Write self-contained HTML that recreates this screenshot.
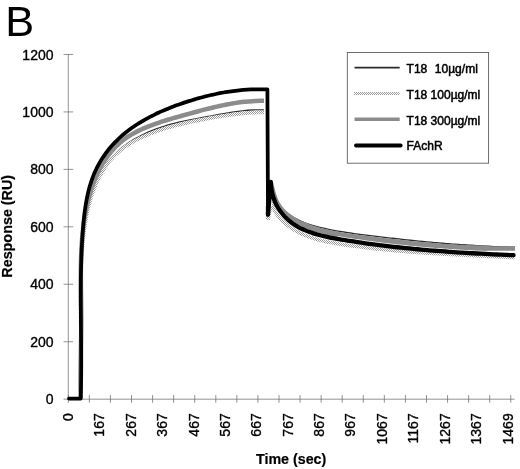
<!DOCTYPE html>
<html><head><meta charset="utf-8"><title>B</title>
<style>
html,body{margin:0;padding:0;background:#fff;}
svg{display:block;font-family:"Liberation Sans",sans-serif;}
</style></head><body>
<svg width="520" height="469" viewBox="0 0 520 469">
<defs>
<pattern id="dots" width="2" height="2" patternUnits="userSpaceOnUse"><rect width="2" height="2" fill="#fbfbfb"/><rect width="1" height="1" fill="#9c9c9c"/><rect x="1" y="1" width="1" height="1" fill="#9c9c9c"/></pattern>
</defs>
<rect width="520" height="469" fill="#fff"/>
<text x="5.35" y="36.1" font-size="43.3" fill="#000">B</text>
<g stroke="#6a6a6a" stroke-width="0.72" fill="none">
<line x1="68.3" x2="68.3" y1="54.4" y2="399.2"/>
<line x1="68.3" x2="514.5" y1="399.2" y2="399.2"/>
<line x1="63.6" x2="73.2" y1="399.20" y2="399.20"/><line x1="63.6" x2="73.2" y1="341.74" y2="341.74"/><line x1="63.6" x2="73.2" y1="284.28" y2="284.28"/><line x1="63.6" x2="73.2" y1="226.82" y2="226.82"/><line x1="63.6" x2="73.2" y1="169.37" y2="169.37"/><line x1="63.6" x2="73.2" y1="111.91" y2="111.91"/><line x1="63.6" x2="73.2" y1="54.45" y2="54.45"/>
<line y1="395" y2="402.8" x1="68.30" x2="68.30"/><line y1="395" y2="402.8" x1="89.37" x2="89.37"/><line y1="395" y2="402.8" x1="110.44" x2="110.44"/><line y1="395" y2="402.8" x1="131.51" x2="131.51"/><line y1="395" y2="402.8" x1="152.58" x2="152.58"/><line y1="395" y2="402.8" x1="173.65" x2="173.65"/><line y1="395" y2="402.8" x1="194.72" x2="194.72"/><line y1="395" y2="402.8" x1="215.79" x2="215.79"/><line y1="395" y2="402.8" x1="236.86" x2="236.86"/><line y1="395" y2="402.8" x1="257.93" x2="257.93"/><line y1="395" y2="402.8" x1="279.00" x2="279.00"/><line y1="395" y2="402.8" x1="300.07" x2="300.07"/><line y1="395" y2="402.8" x1="321.14" x2="321.14"/><line y1="395" y2="402.8" x1="342.21" x2="342.21"/><line y1="395" y2="402.8" x1="363.28" x2="363.28"/><line y1="395" y2="402.8" x1="384.35" x2="384.35"/><line y1="395" y2="402.8" x1="405.42" x2="405.42"/><line y1="395" y2="402.8" x1="426.49" x2="426.49"/><line y1="395" y2="402.8" x1="447.56" x2="447.56"/><line y1="395" y2="402.8" x1="468.63" x2="468.63"/><line y1="395" y2="402.8" x1="489.70" x2="489.70"/><line y1="395" y2="402.8" x1="510.77" x2="510.77"/>
</g>
<g font-size="14" fill="#000" stroke="#000" stroke-width="0.35"><text x="53.5" y="404.30" text-anchor="end">0</text><text x="53.5" y="346.84" text-anchor="end">200</text><text x="53.5" y="289.38" text-anchor="end">400</text><text x="53.5" y="231.92" text-anchor="end">600</text><text x="53.5" y="174.47" text-anchor="end">800</text><text x="53.5" y="117.01" text-anchor="end">1000</text><text x="53.5" y="59.55" text-anchor="end">1200</text></g>
<g font-size="14" fill="#000" stroke="#000" stroke-width="0.35"><text transform="translate(73.10,413.3) rotate(-90)" text-anchor="end">0</text><text transform="translate(104.47,413.3) rotate(-90)" text-anchor="end">167</text><text transform="translate(135.84,413.3) rotate(-90)" text-anchor="end">267</text><text transform="translate(167.21,413.3) rotate(-90)" text-anchor="end">367</text><text transform="translate(198.58,413.3) rotate(-90)" text-anchor="end">467</text><text transform="translate(229.95,413.3) rotate(-90)" text-anchor="end">567</text><text transform="translate(261.32,413.3) rotate(-90)" text-anchor="end">667</text><text transform="translate(292.69,413.3) rotate(-90)" text-anchor="end">767</text><text transform="translate(324.06,413.3) rotate(-90)" text-anchor="end">867</text><text transform="translate(355.43,413.3) rotate(-90)" text-anchor="end">967</text><text transform="translate(386.80,413.3) rotate(-90)" text-anchor="end">1067</text><text transform="translate(418.17,413.3) rotate(-90)" text-anchor="end">1167</text><text transform="translate(449.54,413.3) rotate(-90)" text-anchor="end">1267</text><text transform="translate(480.91,413.3) rotate(-90)" text-anchor="end">1367</text><text transform="translate(513.30,413.3) rotate(-90)" text-anchor="end">1469</text></g>
<text transform="translate(12.0,277.7) rotate(-90)" font-size="14.35" font-weight="bold" fill="#000" stroke="#000" stroke-width="0.2">Response (RU)</text>
<text x="256.0" y="463.8" font-size="14.25" font-weight="bold" fill="#000" stroke="#000" stroke-width="0.2">Time (sec)</text>
<g fill="none" stroke-linejoin="round" stroke-linecap="butt">
<path d="M80.70,398.60 C80.73,397.91 80.81,395.85 80.87,394.48 C80.92,393.11 80.96,391.75 81.00,390.38 C81.04,389.02 81.08,387.65 81.11,386.29 C81.14,384.93 81.17,383.57 81.20,382.21 C81.22,380.86 81.24,379.50 81.26,378.15 C81.28,376.79 81.29,375.44 81.30,374.09 C81.31,372.74 81.32,371.39 81.32,370.05 C81.32,368.70 81.33,367.35 81.32,366.01 C81.32,364.67 81.32,363.32 81.31,361.98 C81.31,360.64 81.30,359.30 81.29,357.96 C81.27,356.62 81.26,355.28 81.25,353.95 C81.23,352.61 81.22,351.28 81.20,349.94 C81.18,348.61 81.16,347.27 81.14,345.94 C81.12,344.61 81.10,343.27 81.08,341.94 C81.06,340.61 81.03,339.28 81.01,337.95 C80.99,336.62 80.96,335.29 80.94,333.96 C80.92,332.63 80.89,331.30 80.87,329.98 C80.84,328.65 80.82,327.32 80.80,325.99 C80.77,324.66 80.75,323.34 80.73,322.01 C80.70,320.68 80.68,319.35 80.66,318.03 C80.64,316.70 80.62,315.37 80.60,314.04 C80.59,312.72 80.57,311.39 80.55,310.06 C80.54,308.73 80.53,307.41 80.51,306.08 C80.50,304.75 80.49,303.42 80.49,302.09 C80.48,300.76 80.47,299.43 80.47,298.10 C80.47,296.77 80.47,295.44 80.47,294.11 C80.48,292.77 80.48,291.44 80.49,290.11 C80.50,288.77 80.51,287.44 80.53,286.11 C80.54,284.77 80.56,283.43 80.59,282.10 C80.61,280.76 80.64,279.42 80.67,278.08 C80.70,276.74 80.73,275.40 80.77,274.06 C80.81,272.72 80.86,271.37 80.90,270.03 C80.95,268.68 81.01,267.34 81.06,265.99 C81.12,264.64 81.19,263.29 81.26,261.94 C81.32,260.59 81.40,259.23 81.48,257.88 C81.56,256.52 81.64,255.17 81.73,253.81 C81.83,252.45 81.92,251.09 82.03,249.73 C82.13,248.36 82.24,247.00 82.36,245.63 C82.47,244.27 82.59,242.90 82.72,241.53 C82.85,240.16 82.99,238.78 83.14,237.41 C83.28,236.04 83.44,234.67 83.60,233.29 C83.76,231.92 83.93,230.55 84.11,229.18 C84.30,227.81 84.49,226.44 84.69,225.07 C84.89,223.71 85.10,222.34 85.32,220.98 C85.55,219.62 85.78,218.26 86.03,216.91 C86.27,215.55 86.53,214.20 86.80,212.86 C87.07,211.51 87.36,210.17 87.66,208.84 C87.96,207.50 88.27,206.17 88.59,204.85 C88.92,203.53 89.26,202.22 89.61,200.91 C89.97,199.60 90.34,198.30 90.73,197.01 C91.12,195.72 91.52,194.44 91.94,193.16 C92.36,191.89 92.80,190.63 93.25,189.37 C93.71,188.12 94.18,186.88 94.67,185.65 C95.16,184.42 95.67,183.19 96.20,181.99 C96.73,180.78 97.27,179.58 97.84,178.40 C98.41,177.22 99.00,176.05 99.60,174.89 C100.21,173.74 100.84,172.59 101.49,171.47 C102.15,170.34 102.82,169.23 103.51,168.13 C104.21,167.03 104.93,165.95 105.67,164.89 C106.41,163.83 107.17,162.78 107.96,161.75 C108.75,160.72 109.56,159.71 110.40,158.71 C111.23,157.72 112.09,156.75 112.98,155.79 C113.87,154.83 114.78,153.90 115.72,152.98 C116.66,152.07 117.63,151.17 118.62,150.30 C119.61,149.42 120.63,148.57 121.67,147.73 C122.71,146.90 123.78,146.09 124.87,145.29 C125.95,144.50 127.06,143.73 128.18,142.97 C129.31,142.22 130.45,141.49 131.61,140.77 C132.77,140.06 133.95,139.36 135.14,138.68 C136.32,138.01 137.53,137.35 138.74,136.71 C139.95,136.07 141.17,135.45 142.41,134.84 C143.64,134.24 144.88,133.65 146.12,133.09 C147.37,132.52 148.63,131.97 149.89,131.44 C151.15,130.90 152.42,130.39 153.69,129.89 C154.96,129.39 156.24,128.91 157.53,128.44 C158.81,127.98 160.10,127.53 161.39,127.10 C162.68,126.66 163.97,126.25 165.27,125.85 C166.56,125.45 167.86,125.06 169.16,124.69 C170.46,124.32 171.76,123.97 173.06,123.63 C174.37,123.29 175.67,122.96 176.97,122.65 C178.27,122.33 179.58,122.03 180.88,121.74 C182.18,121.45 183.49,121.17 184.79,120.89 C186.10,120.62 187.41,120.35 188.71,120.09 C190.02,119.83 191.33,119.58 192.64,119.33 C193.95,119.08 195.26,118.83 196.57,118.59 C197.88,118.34 199.19,118.10 200.50,117.86 C201.81,117.62 203.13,117.37 204.44,117.13 C205.75,116.89 207.07,116.64 208.39,116.40 C209.70,116.16 211.02,115.91 212.34,115.67 C213.65,115.43 214.97,115.18 216.29,114.94 C217.61,114.70 218.93,114.46 220.26,114.22 C221.58,113.99 222.90,113.75 224.22,113.52 C225.55,113.29 226.87,113.06 228.20,112.83 C229.53,112.61 230.85,112.39 232.18,112.19 C233.51,111.98 234.84,111.78 236.17,111.59 C237.50,111.40 238.83,111.22 240.17,111.06 C241.50,110.89 242.83,110.74 244.17,110.61 C245.51,110.47 246.84,110.35 248.18,110.24 C249.52,110.14 250.86,110.05 252.20,109.99 C253.54,109.92 254.88,109.88 256.22,109.85 C257.57,109.83 258.91,109.83 260.26,109.85 C261.60,109.88 263.63,109.98 264.30,110.00 L268.00,110.00 C268.00,127.33 268.00,196.67 268.00,214.00 L271.20,184.00 C271.36,184.71 271.84,186.88 272.18,188.27 C272.53,189.66 272.88,191.02 273.27,192.34 C273.67,193.67 274.08,194.95 274.56,196.20 C275.04,197.45 275.55,198.67 276.14,199.84 C276.73,201.02 277.38,202.16 278.10,203.26 C278.82,204.35 279.61,205.41 280.46,206.44 C281.30,207.46 282.21,208.44 283.16,209.38 C284.11,210.33 285.11,211.23 286.15,212.09 C287.18,212.96 288.26,213.78 289.35,214.57 C290.44,215.36 291.57,216.10 292.71,216.81 C293.84,217.52 295.00,218.18 296.16,218.81 C297.32,219.44 298.50,220.03 299.68,220.60 C300.87,221.16 302.07,221.68 303.27,222.18 C304.48,222.68 305.70,223.14 306.92,223.59 C308.15,224.03 309.39,224.44 310.63,224.84 C311.88,225.23 313.13,225.60 314.39,225.96 C315.65,226.32 316.93,226.65 318.20,226.97 C319.48,227.30 320.77,227.60 322.06,227.90 C323.35,228.20 324.65,228.48 325.95,228.76 C327.26,229.04 328.57,229.31 329.89,229.57 C331.20,229.83 332.53,230.08 333.85,230.33 C335.18,230.57 336.51,230.81 337.84,231.04 C339.18,231.27 340.52,231.49 341.86,231.71 C343.20,231.93 344.55,232.14 345.90,232.34 C347.24,232.55 348.60,232.75 349.95,232.94 C351.30,233.14 352.65,233.33 354.01,233.52 C355.36,233.71 356.72,233.89 358.08,234.07 C359.43,234.25 360.79,234.43 362.15,234.60 C363.50,234.77 364.86,234.95 366.22,235.12 C367.57,235.29 368.93,235.46 370.28,235.62 C371.63,235.79 372.98,235.96 374.34,236.12 C375.69,236.29 377.03,236.45 378.38,236.61 C379.73,236.78 381.08,236.94 382.42,237.10 C383.77,237.26 385.11,237.41 386.46,237.57 C387.80,237.73 389.14,237.88 390.48,238.04 C391.82,238.19 393.17,238.34 394.51,238.49 C395.84,238.65 397.18,238.80 398.52,238.94 C399.86,239.09 401.20,239.24 402.53,239.38 C403.87,239.53 405.21,239.67 406.54,239.81 C407.88,239.96 409.21,240.10 410.54,240.23 C411.88,240.37 413.21,240.51 414.55,240.65 C415.88,240.78 417.21,240.91 418.54,241.05 C419.88,241.18 421.21,241.31 422.54,241.44 C423.87,241.57 425.20,241.69 426.53,241.82 C427.87,241.94 429.20,242.07 430.53,242.19 C431.86,242.31 433.19,242.43 434.52,242.55 C435.85,242.67 437.18,242.78 438.51,242.90 C439.84,243.01 441.17,243.12 442.50,243.24 C443.84,243.35 445.17,243.46 446.50,243.56 C447.83,243.67 449.16,243.77 450.49,243.88 C451.82,243.98 453.16,244.08 454.49,244.18 C455.82,244.28 457.15,244.38 458.49,244.47 C459.82,244.57 461.16,244.66 462.49,244.75 C463.82,244.84 465.16,244.93 466.50,245.02 C467.83,245.11 469.17,245.19 470.50,245.27 C471.84,245.36 473.18,245.44 474.52,245.52 C475.86,245.60 477.20,245.67 478.54,245.75 C479.88,245.82 481.22,245.89 482.56,245.96 C483.90,246.03 485.24,246.10 486.59,246.17 C487.93,246.23 489.28,246.29 490.62,246.36 C491.97,246.42 493.32,246.48 494.67,246.53 C496.02,246.59 497.37,246.64 498.72,246.69 C500.07,246.75 501.42,246.79 502.77,246.84 C504.13,246.89 505.48,246.93 506.84,246.98 C508.20,247.02 509.56,247.06 510.92,247.10 C512.28,247.13 514.32,247.18 515.00,247.20" stroke="#2e2e2e" stroke-width="1.3"/>
<path d="M80.70,398.60 C80.73,397.93 80.81,395.90 80.86,394.55 C80.90,393.21 80.94,391.86 80.98,390.51 C81.02,389.17 81.06,387.82 81.09,386.48 C81.12,385.13 81.14,383.79 81.17,382.45 C81.19,381.10 81.21,379.76 81.22,378.42 C81.24,377.08 81.25,375.74 81.26,374.40 C81.27,373.06 81.28,371.72 81.28,370.38 C81.29,369.04 81.29,367.70 81.28,366.36 C81.28,365.03 81.28,363.69 81.27,362.35 C81.27,361.01 81.26,359.68 81.25,358.34 C81.24,357.01 81.23,355.67 81.21,354.34 C81.20,353.00 81.18,351.67 81.17,350.33 C81.15,349.00 81.13,347.66 81.12,346.33 C81.10,345.00 81.08,343.66 81.06,342.33 C81.04,341.00 81.02,339.67 81.00,338.33 C80.97,337.00 80.95,335.67 80.93,334.34 C80.91,333.00 80.89,331.67 80.87,330.34 C80.84,329.01 80.82,327.68 80.80,326.34 C80.78,325.01 80.76,323.68 80.74,322.35 C80.72,321.02 80.70,319.69 80.68,318.35 C80.67,317.02 80.65,315.69 80.63,314.36 C80.62,313.03 80.60,311.70 80.59,310.36 C80.58,309.03 80.57,307.70 80.56,306.37 C80.55,305.04 80.55,303.70 80.54,302.37 C80.54,301.04 80.53,299.71 80.54,298.37 C80.54,297.04 80.54,295.71 80.54,294.37 C80.55,293.04 80.56,291.71 80.57,290.37 C80.58,289.04 80.60,287.70 80.62,286.37 C80.63,285.03 80.66,283.70 80.68,282.36 C80.71,281.03 80.74,279.69 80.77,278.35 C80.80,277.02 80.84,275.68 80.88,274.34 C80.92,273.00 80.97,271.66 81.02,270.32 C81.07,268.99 81.13,267.65 81.19,266.31 C81.25,264.97 81.31,263.63 81.38,262.28 C81.45,260.94 81.53,259.60 81.61,258.26 C81.69,256.91 81.78,255.57 81.87,254.23 C81.96,252.88 82.06,251.54 82.16,250.19 C82.27,248.84 82.38,247.50 82.50,246.15 C82.61,244.80 82.73,243.45 82.87,242.10 C83.00,240.75 83.13,239.40 83.28,238.05 C83.42,236.71 83.57,235.36 83.74,234.01 C83.90,232.66 84.07,231.31 84.25,229.97 C84.43,228.62 84.62,227.28 84.82,225.93 C85.02,224.59 85.23,223.25 85.45,221.92 C85.67,220.58 85.90,219.24 86.15,217.91 C86.39,216.58 86.65,215.26 86.92,213.93 C87.19,212.61 87.47,211.29 87.77,209.98 C88.07,208.67 88.38,207.36 88.70,206.06 C89.03,204.75 89.36,203.45 89.72,202.16 C90.07,200.87 90.44,199.59 90.83,198.31 C91.22,197.03 91.62,195.76 92.04,194.49 C92.46,193.23 92.89,191.97 93.35,190.73 C93.80,189.48 94.28,188.24 94.77,187.01 C95.26,185.78 95.77,184.55 96.30,183.34 C96.83,182.13 97.38,180.92 97.95,179.73 C98.52,178.54 99.11,177.36 99.72,176.20 C100.33,175.03 100.96,173.88 101.62,172.74 C102.27,171.60 102.95,170.48 103.65,169.37 C104.34,168.26 105.07,167.17 105.81,166.10 C106.56,165.03 107.33,163.97 108.12,162.94 C108.92,161.90 109.74,160.88 110.58,159.89 C111.42,158.89 112.29,157.92 113.19,156.97 C114.09,156.01 115.01,155.08 115.96,154.18 C116.91,153.27 117.88,152.39 118.89,151.54 C119.89,150.68 120.92,149.85 121.97,149.04 C123.03,148.23 124.10,147.45 125.20,146.69 C126.30,145.92 127.42,145.19 128.56,144.47 C129.69,143.75 130.85,143.05 132.02,142.38 C133.19,141.70 134.38,141.05 135.57,140.41 C136.77,139.77 137.98,139.16 139.20,138.56 C140.42,137.96 141.65,137.38 142.89,136.82 C144.13,136.26 145.37,135.71 146.62,135.18 C147.88,134.65 149.13,134.14 150.40,133.64 C151.66,133.14 152.93,132.66 154.21,132.19 C155.48,131.72 156.76,131.27 158.04,130.83 C159.32,130.39 160.61,129.96 161.90,129.54 C163.19,129.13 164.48,128.72 165.77,128.33 C167.07,127.93 168.36,127.55 169.66,127.18 C170.95,126.81 172.25,126.44 173.54,126.09 C174.84,125.74 176.14,125.39 177.43,125.06 C178.73,124.72 180.03,124.39 181.32,124.08 C182.62,123.76 183.92,123.45 185.22,123.14 C186.51,122.84 187.81,122.54 189.11,122.25 C190.41,121.97 191.71,121.68 193.01,121.41 C194.31,121.13 195.62,120.86 196.92,120.60 C198.22,120.34 199.52,120.08 200.83,119.83 C202.13,119.58 203.43,119.33 204.74,119.09 C206.04,118.85 207.35,118.61 208.66,118.38 C209.96,118.15 211.27,117.92 212.58,117.69 C213.89,117.47 215.20,117.25 216.51,117.03 C217.82,116.81 219.13,116.60 220.45,116.39 C221.76,116.17 223.08,115.96 224.39,115.76 C225.71,115.56 227.02,115.35 228.34,115.16 C229.66,114.96 230.98,114.77 232.30,114.59 C233.62,114.41 234.94,114.23 236.27,114.07 C237.59,113.90 238.92,113.74 240.24,113.59 C241.57,113.44 242.90,113.30 244.23,113.18 C245.56,113.05 246.89,112.93 248.22,112.83 C249.55,112.73 250.89,112.64 252.22,112.56 C253.56,112.48 254.90,112.42 256.24,112.38 C257.58,112.33 258.92,112.30 260.26,112.29 C261.61,112.27 263.63,112.30 264.30,112.30 L268.00,112.00 C268.00,130.00 268.00,202.00 268.00,220.00" stroke="url(#dots)" stroke-width="3.7"/>
<path d="M80.70,398.60 C80.68,397.92 80.63,395.89 80.61,394.54 C80.58,393.19 80.56,391.83 80.54,390.48 C80.52,389.13 80.51,387.78 80.50,386.43 C80.49,385.09 80.49,383.74 80.49,382.39 C80.48,381.04 80.49,379.70 80.49,378.35 C80.50,377.01 80.50,375.66 80.52,374.32 C80.53,372.97 80.54,371.63 80.56,370.29 C80.57,368.95 80.59,367.60 80.61,366.26 C80.63,364.92 80.65,363.58 80.67,362.24 C80.69,360.90 80.72,359.56 80.74,358.22 C80.77,356.89 80.79,355.55 80.82,354.21 C80.84,352.87 80.87,351.54 80.90,350.20 C80.92,348.86 80.95,347.53 80.97,346.19 C81.00,344.86 81.03,343.52 81.05,342.19 C81.07,340.85 81.10,339.52 81.12,338.19 C81.14,336.85 81.16,335.52 81.18,334.19 C81.20,332.85 81.22,331.52 81.23,330.19 C81.24,328.86 81.26,327.52 81.27,326.19 C81.28,324.86 81.28,323.53 81.29,322.20 C81.29,320.86 81.29,319.53 81.29,318.20 C81.29,316.87 81.28,315.54 81.27,314.21 C81.26,312.88 81.25,311.55 81.24,310.21 C81.22,308.88 81.21,307.55 81.19,306.22 C81.18,304.89 81.16,303.56 81.14,302.23 C81.12,300.90 81.10,299.57 81.08,298.24 C81.06,296.90 81.05,295.57 81.03,294.24 C81.01,292.91 80.99,291.58 80.97,290.25 C80.95,288.92 80.94,287.58 80.92,286.25 C80.91,284.92 80.90,283.59 80.89,282.25 C80.87,280.92 80.87,279.59 80.86,278.25 C80.86,276.92 80.85,275.59 80.85,274.25 C80.86,272.92 80.86,271.58 80.87,270.25 C80.88,268.91 80.89,267.58 80.91,266.24 C80.92,264.91 80.95,263.57 80.97,262.23 C81.00,260.90 81.03,259.56 81.07,258.22 C81.11,256.88 81.15,255.55 81.21,254.21 C81.26,252.87 81.31,251.53 81.38,250.19 C81.44,248.85 81.51,247.51 81.59,246.16 C81.67,244.82 81.76,243.48 81.86,242.14 C81.95,240.79 82.06,239.45 82.17,238.11 C82.28,236.76 82.40,235.41 82.53,234.07 C82.67,232.72 82.81,231.37 82.96,230.03 C83.11,228.68 83.27,227.33 83.44,225.98 C83.61,224.63 83.79,223.28 83.99,221.93 C84.18,220.58 84.39,219.22 84.60,217.87 C84.82,216.52 85.05,215.16 85.29,213.81 C85.53,212.46 85.79,211.11 86.05,209.77 C86.32,208.42 86.60,207.07 86.90,205.73 C87.19,204.39 87.50,203.05 87.82,201.72 C88.14,200.39 88.48,199.06 88.83,197.73 C89.18,196.41 89.54,195.09 89.93,193.78 C90.31,192.47 90.70,191.17 91.12,189.87 C91.53,188.58 91.96,187.29 92.40,186.01 C92.85,184.73 93.31,183.46 93.79,182.20 C94.26,180.95 94.76,179.70 95.27,178.46 C95.79,177.22 96.32,175.99 96.87,174.78 C97.42,173.57 97.99,172.37 98.57,171.18 C99.16,169.99 99.76,168.81 100.39,167.66 C101.02,166.50 101.66,165.35 102.32,164.22 C102.99,163.09 103.67,161.98 104.38,160.88 C105.08,159.79 105.81,158.71 106.56,157.64 C107.31,156.58 108.07,155.54 108.86,154.51 C109.65,153.49 110.47,152.48 111.30,151.50 C112.13,150.51 112.99,149.55 113.87,148.60 C114.75,147.66 115.65,146.74 116.58,145.84 C117.51,144.94 118.45,144.06 119.43,143.21 C120.40,142.35 121.40,141.52 122.42,140.72 C123.45,139.91 124.49,139.13 125.56,138.38 C126.64,137.62 127.73,136.89 128.85,136.18 C129.96,135.47 131.10,134.78 132.25,134.12 C133.41,133.45 134.58,132.81 135.77,132.18 C136.96,131.56 138.17,130.95 139.39,130.37 C140.61,129.78 141.85,129.21 143.09,128.66 C144.34,128.11 145.60,127.58 146.86,127.06 C148.13,126.54 149.41,126.04 150.69,125.55 C151.97,125.06 153.26,124.58 154.55,124.12 C155.85,123.66 157.15,123.21 158.44,122.77 C159.74,122.33 161.05,121.90 162.35,121.48 C163.65,121.06 164.96,120.65 166.26,120.25 C167.56,119.85 168.87,119.46 170.17,119.07 C171.48,118.68 172.78,118.30 174.08,117.93 C175.39,117.55 176.69,117.18 178.00,116.82 C179.30,116.45 180.60,116.09 181.90,115.73 C183.20,115.37 184.50,115.01 185.80,114.65 C187.10,114.30 188.40,113.94 189.69,113.59 C190.99,113.23 192.28,112.88 193.57,112.52 C194.87,112.17 196.16,111.82 197.45,111.48 C198.74,111.13 200.03,110.78 201.32,110.44 C202.61,110.11 203.90,109.77 205.19,109.44 C206.48,109.11 207.77,108.78 209.06,108.46 C210.35,108.14 211.64,107.82 212.93,107.52 C214.22,107.21 215.51,106.91 216.80,106.61 C218.09,106.32 219.38,106.03 220.68,105.75 C221.97,105.47 223.27,105.20 224.57,104.94 C225.86,104.68 227.16,104.43 228.46,104.19 C229.76,103.95 231.07,103.72 232.37,103.50 C233.68,103.28 234.98,103.07 236.29,102.87 C237.60,102.67 238.92,102.49 240.23,102.32 C241.55,102.14 242.86,101.99 244.19,101.84 C245.51,101.69 246.83,101.56 248.16,101.45 C249.49,101.33 250.82,101.23 252.16,101.14 C253.50,101.05 254.84,100.98 256.18,100.93 C257.52,100.87 258.87,100.83 260.23,100.81 C261.58,100.79 263.62,100.80 264.30,100.80 L268.00,101.00 C268.00,119.83 268.00,195.17 268.00,214.00" stroke="#8c8c8c" stroke-width="4.5"/>
<path d="M268.00,214.00 L271.20,184.00 C271.37,184.71 271.89,186.86 272.24,188.24 C272.58,189.63 272.92,190.99 273.28,192.31 C273.65,193.63 274.02,194.93 274.44,196.19 C274.86,197.45 275.31,198.68 275.82,199.88 C276.34,201.07 276.90,202.24 277.53,203.36 C278.17,204.49 278.88,205.59 279.64,206.65 C280.41,207.70 281.24,208.73 282.11,209.72 C282.99,210.71 283.92,211.67 284.88,212.58 C285.84,213.50 286.86,214.37 287.89,215.21 C288.93,216.05 290.00,216.85 291.08,217.62 C292.17,218.39 293.28,219.12 294.40,219.82 C295.52,220.52 296.65,221.18 297.80,221.81 C298.94,222.44 300.10,223.04 301.27,223.61 C302.44,224.17 303.62,224.71 304.81,225.22 C306.00,225.73 307.20,226.22 308.41,226.68 C309.62,227.14 310.84,227.58 312.07,227.99 C313.31,228.41 314.55,228.80 315.79,229.18 C317.04,229.56 318.30,229.91 319.56,230.25 C320.83,230.60 322.10,230.92 323.38,231.24 C324.66,231.56 325.95,231.86 327.24,232.16 C328.53,232.46 329.83,232.75 331.14,233.03 C332.44,233.31 333.75,233.58 335.06,233.84 C336.38,234.10 337.70,234.34 339.02,234.58 C340.35,234.82 341.68,235.05 343.01,235.28 C344.34,235.50 345.67,235.72 347.01,235.93 C348.35,236.14 349.69,236.34 351.03,236.53 C352.37,236.73 353.72,236.92 355.06,237.11 C356.41,237.29 357.75,237.48 359.10,237.65 C360.44,237.83 361.79,238.01 363.14,238.18 C364.49,238.35 365.83,238.52 367.18,238.69 C368.52,238.85 369.87,239.02 371.21,239.18 C372.55,239.35 373.89,239.51 375.23,239.68 C376.57,239.84 377.91,240.00 379.25,240.16 C380.59,240.32 381.93,240.47 383.26,240.63 C384.60,240.79 385.93,240.94 387.27,241.09 C388.60,241.25 389.94,241.40 391.27,241.55 C392.60,241.70 393.93,241.85 395.26,241.99 C396.59,242.14 397.92,242.28 399.25,242.43 C400.58,242.57 401.91,242.71 403.24,242.85 C404.57,242.99 405.89,243.12 407.22,243.26 C408.55,243.39 409.87,243.53 411.20,243.66 C412.52,243.79 413.85,243.92 415.17,244.04 C416.50,244.17 417.82,244.30 419.15,244.42 C420.47,244.54 421.80,244.66 423.12,244.78 C424.44,244.90 425.77,245.01 427.09,245.12 C428.41,245.24 429.74,245.35 431.06,245.46 C432.38,245.56 433.70,245.67 435.03,245.77 C436.35,245.88 437.67,245.98 439.00,246.08 C440.32,246.17 441.64,246.27 442.96,246.36 C444.29,246.46 445.61,246.55 446.93,246.63 C448.26,246.72 449.58,246.81 450.91,246.89 C452.23,246.97 453.55,247.05 454.88,247.13 C456.20,247.20 457.53,247.28 458.85,247.35 C460.18,247.42 461.50,247.48 462.83,247.55 C464.16,247.61 465.48,247.67 466.81,247.73 C468.14,247.79 469.47,247.85 470.80,247.90 C472.13,247.95 473.46,248.00 474.79,248.04 C476.12,248.09 477.45,248.13 478.78,248.17 C480.11,248.21 481.44,248.24 482.78,248.28 C484.11,248.31 485.45,248.34 486.78,248.36 C488.12,248.39 489.45,248.41 490.79,248.43 C492.13,248.44 493.47,248.46 494.81,248.47 C496.15,248.48 497.49,248.49 498.83,248.49 C500.17,248.49 501.52,248.49 502.86,248.49 C504.21,248.49 505.55,248.48 506.90,248.47 C508.25,248.46 509.59,248.44 510.94,248.42 C512.30,248.40 514.32,248.36 515.00,248.35" stroke="#8c8c8c" stroke-width="4.6"/>
<path d="M301.27,223.61 C301.86,223.87 303.62,224.71 304.81,225.22 C306.00,225.73 307.20,226.22 308.41,226.68 C309.62,227.14 310.84,227.58 312.07,227.99 C313.31,228.41 314.55,228.80 315.79,229.18 C317.04,229.56 318.30,229.91 319.56,230.25 C320.83,230.60 322.10,230.92 323.38,231.24 C324.66,231.56 325.95,231.86 327.24,232.16 C328.53,232.46 329.83,232.75 331.14,233.03 C332.44,233.31 333.75,233.58 335.06,233.84 C336.38,234.10 337.70,234.34 339.02,234.58 C340.35,234.82 341.68,235.05 343.01,235.28 C344.34,235.50 345.67,235.72 347.01,235.93 C348.35,236.14 349.69,236.34 351.03,236.53 C352.37,236.73 353.72,236.92 355.06,237.11 C356.41,237.29 357.75,237.48 359.10,237.65 C360.44,237.83 361.79,238.01 363.14,238.18 C364.49,238.35 365.83,238.52 367.18,238.69 C368.52,238.85 369.87,239.02 371.21,239.18 C372.55,239.35 373.89,239.51 375.23,239.68 C376.57,239.84 377.91,240.00 379.25,240.16 C380.59,240.32 381.93,240.47 383.26,240.63 C384.60,240.79 385.93,240.94 387.27,241.09 C388.60,241.25 389.94,241.40 391.27,241.55 C392.60,241.70 393.93,241.85 395.26,241.99 C396.59,242.14 397.92,242.28 399.25,242.43 C400.58,242.57 401.91,242.71 403.24,242.85 C404.57,242.99 405.89,243.12 407.22,243.26 C408.55,243.39 409.87,243.53 411.20,243.66 C412.52,243.79 413.85,243.92 415.17,244.04 C416.50,244.17 417.82,244.30 419.15,244.42 C420.47,244.54 421.80,244.66 423.12,244.78 C424.44,244.90 425.77,245.01 427.09,245.12 C428.41,245.24 429.74,245.35 431.06,245.46 C432.38,245.56 433.70,245.67 435.03,245.77 C436.35,245.88 437.67,245.98 439.00,246.08 C440.32,246.17 441.64,246.27 442.96,246.36 C444.29,246.46 445.61,246.55 446.93,246.63 C448.26,246.72 449.58,246.81 450.91,246.89 C452.23,246.97 453.55,247.05 454.88,247.13 C456.20,247.20 457.53,247.28 458.85,247.35 C460.18,247.42 461.50,247.48 462.83,247.55 C464.16,247.61 465.48,247.67 466.81,247.73 C468.14,247.79 469.47,247.85 470.80,247.90 C472.13,247.95 473.46,248.00 474.79,248.04 C476.12,248.09 477.45,248.13 478.78,248.17 C480.11,248.21 481.44,248.24 482.78,248.28 C484.11,248.31 486.11,248.35 486.78,248.36" stroke="#8c8c8c" stroke-width="5.4"/>
<path d="M337.14,238.83 C337.82,238.95 339.85,239.30 341.20,239.53 C342.55,239.75 343.90,239.98 345.25,240.20 C346.60,240.42 347.95,240.63 349.30,240.85 C350.64,241.06 351.99,241.27 353.34,241.48 C354.68,241.68 356.02,241.89 357.37,242.09 C358.71,242.29 360.05,242.49 361.39,242.68 C362.73,242.88 364.07,243.07 365.41,243.26 C366.75,243.45 368.09,243.63 369.43,243.81 C370.77,244.00 372.10,244.18 373.44,244.35 C374.77,244.53 376.11,244.70 377.44,244.88 C378.78,245.05 380.11,245.21 381.44,245.38 C382.78,245.55 384.11,245.71 385.44,245.87 C386.77,246.03 388.10,246.19 389.43,246.34 C390.76,246.50 392.09,246.65 393.42,246.80 C394.75,246.95 396.08,247.10 397.41,247.24 C398.74,247.39 400.07,247.53 401.39,247.67 C402.72,247.81 404.05,247.95 405.38,248.08 C406.70,248.22 408.03,248.35 409.36,248.48 C410.68,248.61 412.01,248.74 413.34,248.87 C414.66,248.99 415.99,249.12 417.31,249.24 C418.64,249.36 419.97,249.48 421.29,249.60 C422.62,249.71 423.94,249.83 425.27,249.94 C426.59,250.06 427.92,250.17 429.25,250.28 C430.57,250.39 431.90,250.49 433.23,250.60 C434.55,250.71 435.88,250.81 437.20,250.91 C438.53,251.01 439.86,251.11 441.19,251.21 C442.51,251.31 443.84,251.41 445.17,251.50 C446.50,251.60 447.82,251.69 449.15,251.78 C450.48,251.87 451.81,251.96 453.14,252.05 C454.47,252.14 455.80,252.23 457.13,252.31 C458.46,252.40 459.79,252.48 461.12,252.56 C462.45,252.65 463.79,252.73 465.12,252.81 C466.45,252.89 467.79,252.97 469.12,253.04 C470.45,253.12 471.79,253.20 473.13,253.27 C474.46,253.34 475.80,253.42 477.14,253.49 C478.47,253.56 479.81,253.63 481.15,253.70 C482.49,253.77 483.83,253.84 485.17,253.91 C486.51,253.98 487.85,254.04 489.20,254.11 C490.54,254.17 491.88,254.24 493.23,254.30 C494.57,254.37 495.92,254.43 497.27,254.49 C498.62,254.55 499.97,254.62 501.32,254.68 C502.67,254.74 504.02,254.80 505.37,254.85 C506.72,254.91 508.08,254.97 509.43,255.03 C510.79,255.09 512.82,255.17 513.50,255.20" stroke="#fff" stroke-width="5.7"/>
<path d="M268.00,220.00 L271.50,202.00 C271.68,202.67 272.16,204.72 272.60,206.01 C273.04,207.30 273.57,208.54 274.15,209.74 C274.73,210.94 275.38,212.10 276.09,213.22 C276.79,214.33 277.56,215.41 278.37,216.44 C279.17,217.48 280.03,218.47 280.93,219.43 C281.82,220.39 282.76,221.31 283.71,222.19 C284.67,223.08 285.66,223.92 286.67,224.74 C287.68,225.55 288.72,226.33 289.77,227.08 C290.83,227.82 291.90,228.54 293.00,229.22 C294.09,229.91 295.21,230.56 296.34,231.19 C297.47,231.81 298.62,232.41 299.79,232.98 C300.96,233.55 302.14,234.09 303.34,234.61 C304.54,235.13 305.75,235.62 306.98,236.09 C308.21,236.56 309.45,237.01 310.71,237.43 C311.96,237.86 313.23,238.26 314.51,238.65 C315.78,239.03 317.07,239.40 318.37,239.74 C319.67,240.09 320.98,240.42 322.29,240.74 C323.60,241.05 324.93,241.35 326.26,241.63 C327.59,241.92 328.92,242.19 330.26,242.45 C331.60,242.71 332.95,242.95 334.30,243.19 C335.65,243.42 337.00,243.65 338.36,243.87 C339.71,244.08 341.07,244.29 342.43,244.50 C343.79,244.70 345.15,244.89 346.50,245.08 C347.86,245.28 349.22,245.46 350.57,245.65 C351.93,245.83 353.28,246.01 354.63,246.18 C355.99,246.36 357.34,246.53 358.68,246.70 C360.03,246.87 361.38,247.04 362.73,247.20 C364.07,247.36 365.41,247.52 366.76,247.68 C368.10,247.84 369.44,247.99 370.78,248.14 C372.12,248.29 373.46,248.44 374.80,248.58 C376.14,248.73 377.47,248.87 378.81,249.01 C380.14,249.14 381.48,249.28 382.81,249.41 C384.14,249.55 385.48,249.68 386.81,249.80 C388.14,249.93 389.47,250.06 390.80,250.18 C392.13,250.30 393.46,250.42 394.78,250.54 C396.11,250.66 397.44,250.77 398.76,250.89 C400.09,251.00 401.42,251.11 402.74,251.22 C404.07,251.33 405.39,251.44 406.72,251.54 C408.04,251.64 409.36,251.75 410.69,251.85 C412.01,251.95 413.33,252.05 414.65,252.14 C415.98,252.24 417.30,252.33 418.62,252.43 C419.94,252.52 421.26,252.61 422.58,252.70 C423.90,252.79 425.23,252.88 426.55,252.97 C427.87,253.05 429.19,253.14 430.51,253.22 C431.83,253.31 433.15,253.39 434.47,253.47 C435.79,253.55 437.11,253.63 438.43,253.71 C439.76,253.79 441.08,253.86 442.40,253.94 C443.72,254.01 445.04,254.09 446.36,254.16 C447.69,254.24 449.01,254.31 450.33,254.38 C451.65,254.45 452.98,254.53 454.30,254.60 C455.63,254.67 456.95,254.74 458.27,254.81 C459.60,254.87 460.92,254.94 462.25,255.01 C463.58,255.08 464.90,255.15 466.23,255.21 C467.56,255.28 468.89,255.35 470.22,255.41 C471.55,255.48 472.88,255.54 474.21,255.61 C475.54,255.67 476.87,255.74 478.20,255.80 C479.54,255.87 480.87,255.93 482.20,256.00 C483.54,256.06 484.88,256.13 486.21,256.19 C487.55,256.26 488.89,256.32 490.23,256.39 C491.57,256.45 492.91,256.52 494.25,256.58 C495.59,256.65 496.94,256.71 498.28,256.78 C499.63,256.85 500.98,256.91 502.32,256.98 C503.67,257.05 505.02,257.11 506.37,257.18 C507.72,257.25 509.08,257.32 510.43,257.39 C511.79,257.46 513.82,257.57 514.50,257.60" stroke="url(#dots)" stroke-width="3.7"/>
<line x1="268.0" x2="268.0" y1="93" y2="206" stroke="#fff" stroke-width="8"/>
<path d="M69.00,398.60 L80.70,398.60 C80.72,397.93 80.78,395.94 80.82,394.60 C80.86,393.27 80.89,391.94 80.92,390.60 C80.95,389.27 80.98,387.94 81.01,386.60 C81.03,385.27 81.06,383.94 81.08,382.60 C81.10,381.27 81.11,379.93 81.13,378.60 C81.14,377.26 81.16,375.93 81.17,374.59 C81.18,373.26 81.19,371.92 81.19,370.59 C81.20,369.25 81.21,367.91 81.21,366.58 C81.21,365.24 81.21,363.91 81.21,362.57 C81.21,361.23 81.21,359.90 81.21,358.56 C81.20,357.22 81.20,355.88 81.19,354.55 C81.19,353.21 81.18,351.87 81.17,350.53 C81.16,349.20 81.15,347.86 81.14,346.52 C81.13,345.18 81.12,343.84 81.11,342.50 C81.10,341.16 81.09,339.83 81.08,338.49 C81.06,337.15 81.05,335.81 81.04,334.47 C81.02,333.13 81.01,331.79 81.00,330.45 C80.98,329.11 80.97,327.77 80.96,326.43 C80.94,325.09 80.93,323.75 80.92,322.41 C80.91,321.07 80.89,319.72 80.88,318.38 C80.87,317.04 80.86,315.70 80.85,314.36 C80.84,313.02 80.83,311.68 80.82,310.33 C80.81,308.99 80.80,307.65 80.79,306.31 C80.79,304.96 80.78,303.62 80.78,302.28 C80.77,300.94 80.77,299.59 80.77,298.25 C80.76,296.91 80.76,295.56 80.77,294.22 C80.77,292.88 80.77,291.53 80.77,290.19 C80.78,288.85 80.79,287.50 80.80,286.16 C80.80,284.81 80.81,283.47 80.83,282.13 C80.84,280.78 80.86,279.44 80.87,278.09 C80.89,276.75 80.91,275.40 80.93,274.06 C80.96,272.71 80.98,271.37 81.01,270.02 C81.04,268.68 81.07,267.33 81.11,265.98 C81.14,264.64 81.18,263.29 81.22,261.95 C81.26,260.60 81.30,259.25 81.35,257.91 C81.39,256.56 81.45,255.21 81.50,253.87 C81.55,252.52 81.61,251.17 81.67,249.83 C81.73,248.48 81.80,247.13 81.87,245.79 C81.94,244.44 82.01,243.09 82.09,241.74 C82.16,240.40 82.25,239.05 82.33,237.70 C82.42,236.35 82.51,235.01 82.60,233.66 C82.70,232.31 82.80,230.96 82.90,229.61 C83.00,228.27 83.11,226.92 83.23,225.57 C83.34,224.22 83.47,222.88 83.60,221.53 C83.72,220.19 83.86,218.84 84.01,217.50 C84.15,216.16 84.31,214.82 84.47,213.48 C84.64,212.15 84.81,210.81 85.00,209.48 C85.18,208.15 85.38,206.83 85.59,205.50 C85.80,204.18 86.02,202.86 86.26,201.55 C86.49,200.24 86.74,198.93 87.01,197.63 C87.27,196.32 87.55,195.03 87.85,193.73 C88.15,192.44 88.46,191.16 88.79,189.88 C89.12,188.60 89.46,187.33 89.83,186.07 C90.20,184.80 90.58,183.55 90.99,182.30 C91.39,181.05 91.81,179.81 92.26,178.58 C92.71,177.35 93.17,176.13 93.66,174.92 C94.15,173.71 94.66,172.51 95.20,171.31 C95.74,170.12 96.29,168.94 96.88,167.77 C97.46,166.60 98.07,165.44 98.70,164.29 C99.34,163.15 99.99,162.01 100.67,160.89 C101.35,159.76 102.05,158.65 102.78,157.55 C103.50,156.45 104.25,155.37 105.02,154.30 C105.78,153.23 106.57,152.17 107.38,151.13 C108.19,150.08 109.02,149.05 109.87,148.04 C110.72,147.03 111.59,146.03 112.48,145.04 C113.36,144.06 114.27,143.09 115.20,142.14 C116.12,141.19 117.06,140.26 118.02,139.34 C118.98,138.43 119.96,137.52 120.95,136.64 C121.94,135.76 122.95,134.89 123.97,134.03 C124.99,133.18 126.03,132.35 127.09,131.52 C128.14,130.70 129.21,129.90 130.29,129.11 C131.37,128.32 132.46,127.54 133.57,126.78 C134.67,126.02 135.79,125.27 136.93,124.54 C138.06,123.81 139.20,123.09 140.35,122.38 C141.50,121.68 142.67,120.99 143.84,120.31 C145.02,119.64 146.20,118.97 147.39,118.32 C148.59,117.67 149.79,117.04 151.00,116.41 C152.21,115.79 153.43,115.18 154.65,114.58 C155.88,113.98 157.11,113.39 158.35,112.82 C159.59,112.24 160.83,111.68 162.08,111.13 C163.33,110.58 164.59,110.04 165.85,109.51 C167.11,108.98 168.37,108.46 169.64,107.96 C170.91,107.45 172.18,106.96 173.46,106.47 C174.73,105.98 176.01,105.51 177.29,105.04 C178.57,104.58 179.85,104.13 181.14,103.68 C182.42,103.23 183.70,102.80 184.99,102.37 C186.27,101.95 187.55,101.53 188.84,101.12 C190.12,100.71 191.40,100.32 192.69,99.93 C193.97,99.54 195.25,99.16 196.54,98.79 C197.82,98.42 199.11,98.06 200.39,97.71 C201.67,97.36 202.96,97.02 204.25,96.68 C205.53,96.35 206.82,96.03 208.11,95.72 C209.39,95.41 210.68,95.11 211.97,94.82 C213.26,94.53 214.55,94.25 215.84,93.99 C217.14,93.72 218.43,93.46 219.72,93.21 C221.02,92.97 222.32,92.73 223.61,92.51 C224.91,92.28 226.21,92.07 227.51,91.87 C228.82,91.66 230.12,91.47 231.43,91.29 C232.73,91.11 234.04,90.95 235.35,90.79 C236.67,90.63 237.98,90.49 239.30,90.36 C240.61,90.22 241.93,90.10 243.25,89.99 C244.57,89.89 245.90,89.79 247.23,89.71 C248.55,89.62 249.88,89.55 251.22,89.49 C252.55,89.43 253.89,89.39 255.23,89.35 C256.57,89.32 257.92,89.30 259.26,89.29 C260.61,89.28 261.96,89.29 263.32,89.30 C264.68,89.32 266.72,89.38 267.40,89.40 L268.00,214.60" stroke="#000" stroke-width="3.75" stroke-linecap="round"/>
<path d="M268.00,214.60 L270.80,181.80 C270.85,182.52 270.94,184.68 271.08,186.09 C271.23,187.50 271.42,188.90 271.66,190.27 C271.90,191.65 272.18,193.00 272.52,194.33 C272.85,195.66 273.24,196.97 273.67,198.25 C274.10,199.54 274.58,200.80 275.11,202.03 C275.64,203.26 276.21,204.46 276.84,205.64 C277.46,206.81 278.13,207.96 278.85,209.07 C279.56,210.19 280.32,211.27 281.12,212.32 C281.91,213.37 282.75,214.39 283.62,215.37 C284.49,216.35 285.40,217.30 286.34,218.21 C287.27,219.11 288.24,219.98 289.23,220.82 C290.22,221.65 291.25,222.44 292.29,223.19 C293.33,223.95 294.41,224.66 295.50,225.35 C296.59,226.03 297.70,226.68 298.84,227.29 C299.97,227.91 301.13,228.50 302.30,229.05 C303.48,229.61 304.67,230.13 305.88,230.64 C307.09,231.14 308.32,231.61 309.56,232.06 C310.80,232.51 312.06,232.93 313.33,233.34 C314.60,233.74 315.88,234.12 317.18,234.49 C318.47,234.85 319.77,235.20 321.09,235.52 C322.40,235.85 323.72,236.16 325.05,236.46 C326.38,236.76 327.71,237.04 329.05,237.31 C330.39,237.59 331.74,237.85 333.09,238.10 C334.44,238.35 335.79,238.59 337.14,238.83 C338.49,239.07 339.85,239.30 341.20,239.53 C342.55,239.75 343.90,239.98 345.25,240.20 C346.60,240.42 347.95,240.63 349.30,240.85 C350.64,241.06 351.99,241.27 353.34,241.48 C354.68,241.68 356.02,241.89 357.37,242.09 C358.71,242.29 360.05,242.49 361.39,242.68 C362.73,242.88 364.07,243.07 365.41,243.26 C366.75,243.45 368.09,243.63 369.43,243.81 C370.77,244.00 372.10,244.18 373.44,244.35 C374.77,244.53 376.11,244.70 377.44,244.88 C378.78,245.05 380.11,245.21 381.44,245.38 C382.78,245.55 384.11,245.71 385.44,245.87 C386.77,246.03 388.10,246.19 389.43,246.34 C390.76,246.50 392.09,246.65 393.42,246.80 C394.75,246.95 396.08,247.10 397.41,247.24 C398.74,247.39 400.07,247.53 401.39,247.67 C402.72,247.81 404.05,247.95 405.38,248.08 C406.70,248.22 408.03,248.35 409.36,248.48 C410.68,248.61 412.01,248.74 413.34,248.87 C414.66,248.99 415.99,249.12 417.31,249.24 C418.64,249.36 419.97,249.48 421.29,249.60 C422.62,249.71 423.94,249.83 425.27,249.94 C426.59,250.06 427.92,250.17 429.25,250.28 C430.57,250.39 431.90,250.49 433.23,250.60 C434.55,250.71 435.88,250.81 437.20,250.91 C438.53,251.01 439.86,251.11 441.19,251.21 C442.51,251.31 443.84,251.41 445.17,251.50 C446.50,251.60 447.82,251.69 449.15,251.78 C450.48,251.87 451.81,251.96 453.14,252.05 C454.47,252.14 455.80,252.23 457.13,252.31 C458.46,252.40 459.79,252.48 461.12,252.56 C462.45,252.65 463.79,252.73 465.12,252.81 C466.45,252.89 467.79,252.97 469.12,253.04 C470.45,253.12 471.79,253.20 473.13,253.27 C474.46,253.34 475.80,253.42 477.14,253.49 C478.47,253.56 479.81,253.63 481.15,253.70 C482.49,253.77 483.83,253.84 485.17,253.91 C486.51,253.98 487.85,254.04 489.20,254.11 C490.54,254.17 491.88,254.24 493.23,254.30 C494.57,254.37 495.92,254.43 497.27,254.49 C498.62,254.55 499.97,254.62 501.32,254.68 C502.67,254.74 504.02,254.80 505.37,254.85 C506.72,254.91 508.08,254.97 509.43,255.03 C510.79,255.09 512.82,255.17 513.50,255.20" stroke="#000" stroke-width="4.3" stroke-linecap="round"/>
</g>
<rect x="347.3" y="52.5" width="141.3" height="110.7" fill="#fff" stroke="#585858" stroke-width="0.85"/>
<g fill="none" stroke-linecap="butt">
<line x1="354.5" x2="399.7" y1="67.6" y2="67.6" stroke="#2a2a2a" stroke-width="1.7"/>
<line x1="354" x2="399.7" y1="93.5" y2="93.5" stroke="url(#dots)" stroke-width="3.2"/>
<line x1="354.5" x2="399.7" y1="119.3" y2="119.3" stroke="#8c8c8c" stroke-width="3.6"/>
<line x1="356" x2="400.7" y1="145.5" y2="145.5" stroke="#000" stroke-width="3.8" stroke-linecap="round"/>
</g>
<g font-size="12" fill="#000" stroke="#000" stroke-width="0.5">
<text x="406.6" y="72.9" xml:space="preserve">T18  <tspan dx="0.9">10µg/ml</tspan></text>
<text x="406.6" y="98.8">T18 100µg/ml</text>
<text x="406.6" y="124.9">T18 300µg/ml</text>
<text x="406.6" y="150.4">FAchR</text>
</g>
</svg>
</body></html>
